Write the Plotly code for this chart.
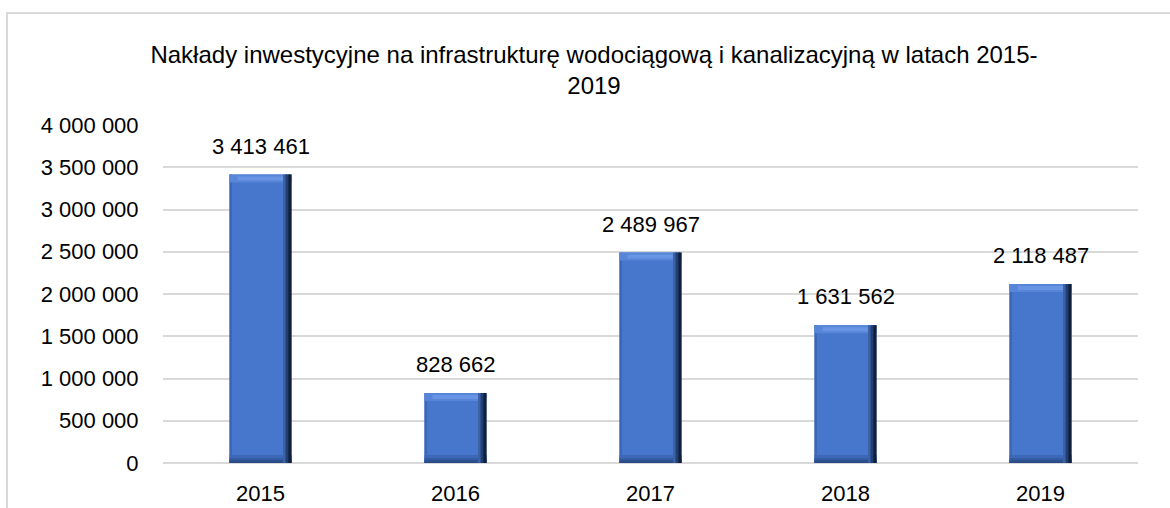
import plotly.graph_objects as go

years = ["2015", "2016", "2017", "2018", "2019"]
values = [3413461, 828662, 2489967, 1631562, 2118487]
y_ticks = [0, 500000, 1000000, 1500000, 2000000, 2500000, 3000000, 3500000, 4000000]
title_text = "Nakłady inwestycyjne na infrastrukturę wodociągową i kanalizacyjną w latach 2015-<br>2019"

FONT = "Liberation Sans Narrow, Arial Narrow, Liberation Sans, Arial, sans-serif"
FS = 22

W, H = 1170, 508
ML, MR, MT, MB = 163, 32, 125, 45
YMAX = 4000000
px_per_unit = (H - MT - MB) / YMAX
bev = 8 / px_per_unit  # bevel height in data units

bar_w = 0.318
edge_w = 0.041
N = len(values)

fig = go.Figure()


def layer(y, base, width, offset, color, hover=False):
    fig.add_trace(go.Bar(x=years, y=y, base=base, width=width, offset=offset,
                         marker=dict(color=color, line=dict(width=0)),
                         hoverinfo="x+y" if hover else "skip"))


# main bar body
layer(values, None, bar_w, -bar_w / 2, "#4677CD", hover=True)
# left subtle edge
layer(values, None, 0.012, -bar_w / 2, "#3B66B2")
# bottom dark bevel (gradient)
layer([bev] * N, [0] * N, bar_w, -bar_w / 2, "#3D68B8")
layer([bev * 0.6] * N, [0] * N, bar_w, -bar_w / 2, "#335A9F")
layer([bev * 0.3] * N, [0] * N, bar_w, -bar_w / 2, "#2A4C88")
# top light bevel
layer([bev] * N, [v - bev for v in values], bar_w, -bar_w / 2, "#5786D8")
layer([bev * 0.5] * N, [v - bev * 0.75 for v in values], bar_w - 2 * edge_w,
      -bar_w / 2 + edge_w, "#6894E3")
# right dark edge gradient strips
shades = ["#3C62A6", "#2F5290", "#233F72", "#172C52", "#0F1F3C"]
n = len(shades)
for i, c in enumerate(shades):
    layer(values, None, edge_w / n, bar_w / 2 - edge_w + i * edge_w / n, c)

for i, v in enumerate(values):
    fig.add_annotation(x=i, y=v, text=f"{v:,}".replace(",", " "), showarrow=False,
                       yanchor="bottom", yshift=14, font=dict(family=FONT, size=FS, color="#000000"))

# chart frame (outer border, partly cropped)
fig.add_shape(type="rect", xref="paper", yref="paper",
              x0=(7 - ML) / (W - ML - MR), x1=(W + 20 - ML) / (W - ML - MR),
              y0=-(MB + 20) / (H - MT - MB), y1=1 + (MT - 13) / (H - MT - MB),
              line=dict(color="#D9D9D9", width=2), fillcolor="rgba(0,0,0,0)", layer="below")

fig.update_layout(
    width=W, height=H,
    margin=dict(l=ML, r=MR, t=MT, b=MB, autoexpand=False),
    paper_bgcolor="white", plot_bgcolor="white",
    barmode="overlay", showlegend=False,
    separators=", ",
    title=dict(text=title_text, x=594 / W, xanchor="center", y=1 - 63 / H, yanchor="top",
               font=dict(family=FONT, size=24, color="#000000")),
    font=dict(family=FONT, size=FS, color="#000000"),
)
fig.update_xaxes(type="category", range=[-0.5, N - 0.5], showgrid=False, automargin=False,
                 showline=False, zeroline=False,
                 ticks="outside", ticklen=11, tickcolor="rgba(0,0,0,0)",
                 tickfont=dict(family=FONT, size=FS, color="#000000"))
fig.update_yaxes(range=[0, YMAX], tickvals=y_ticks, tickformat=",", showgrid=True,
                 automargin=False,
                 gridcolor="#D9D9D9", gridwidth=1.5, zeroline=True, zerolinecolor="#D9D9D9",
                 zerolinewidth=1.5, showline=False, ticks="outside", ticklen=19,
                 tickcolor="rgba(0,0,0,0)",
                 tickfont=dict(family=FONT, size=FS, color="#000000"))

fig.write_html("out.html", config={"displayModeBar": False},
               post_script="document.body.style.margin='0';document.body.style.overflow='hidden';")
